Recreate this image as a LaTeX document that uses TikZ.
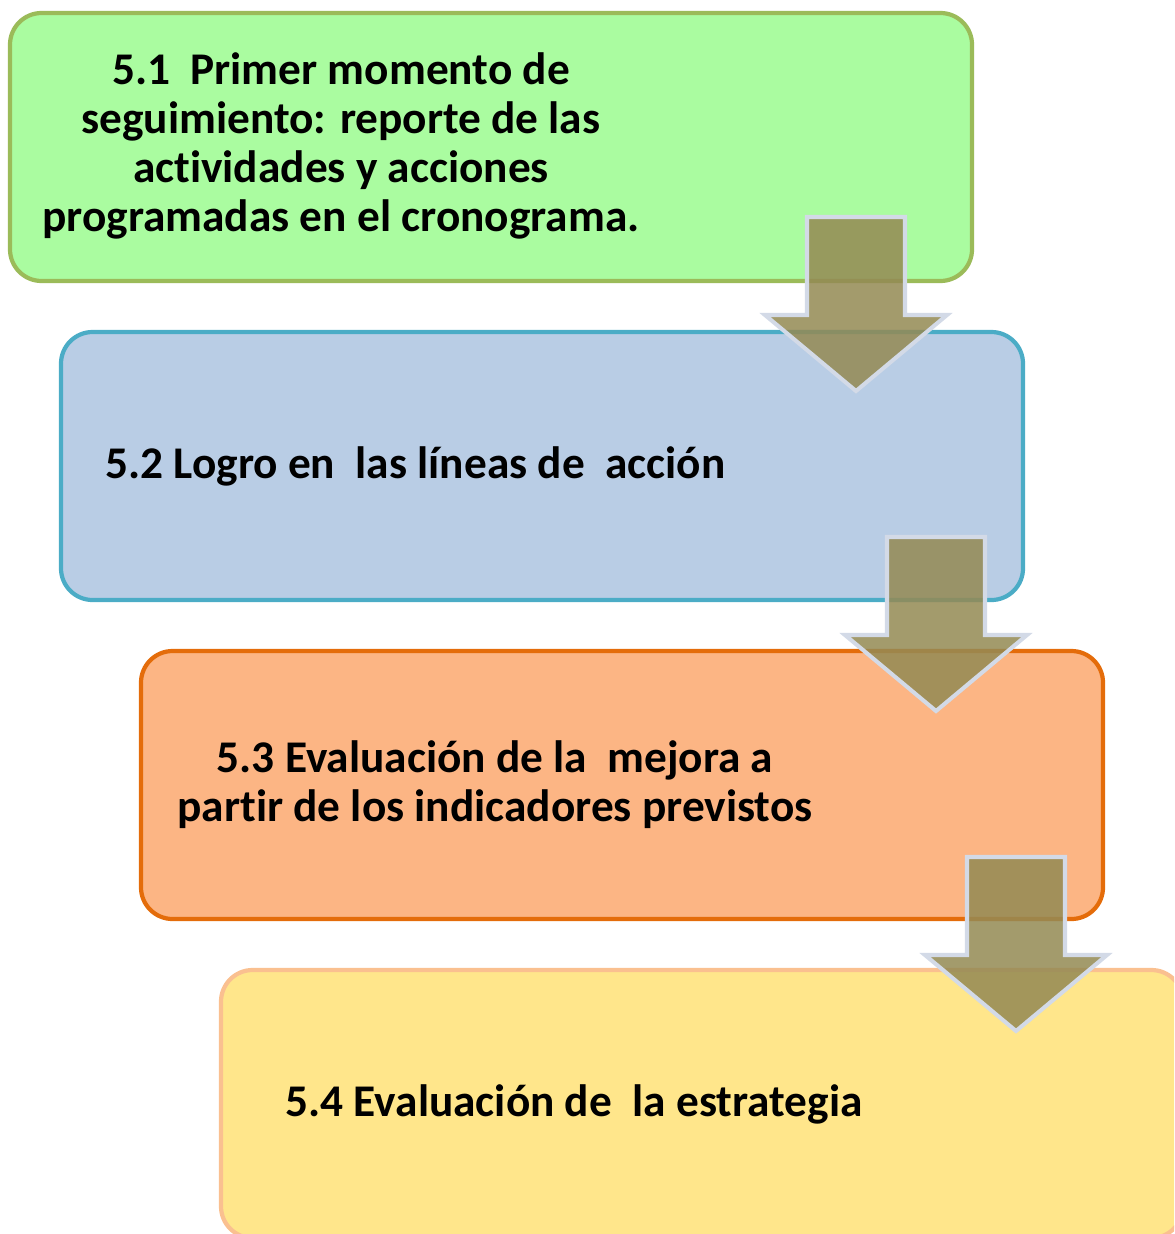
\documentclass[tikz,border=0pt]{standalone}
\usepackage{fontspec}
\setmainfont[Ligatures=NoCommon]{Carlito}
\usepackage{tikz}
\usetikzlibrary{calc}

\definecolor{greenfill}{HTML}{AAFCA0}
\definecolor{greenline}{HTML}{9BBB59}
\definecolor{bluefill}{HTML}{B9CDE5}
\definecolor{blueline}{HTML}{4BACC6}
\definecolor{orangefill}{HTML}{FCB584}
\definecolor{orangeline}{HTML}{E46C0A}
\definecolor{yellowfill}{HTML}{FFE68B}
\definecolor{yellowline}{HTML}{FAC090}
\definecolor{olivefill}{HTML}{948A54}
\definecolor{arrowline}{HTML}{D3DAE7}

\tikzset{
  stage/.style={draw, line width=2.4pt, rounded corners=18pt,
    minimum width=962*0.02cm, minimum height=268*0.02cm, inner sep=0pt},
  stagetext/.style={font=\bfseries\fontsize{25.8}{27.9}\selectfont, align=center, inner sep=0pt},
  blockarrow/.style={fill=olivefill, fill opacity=0.86, draw=arrowline, line width=2.3pt, line join=miter}
}

\begin{document}
\begin{tikzpicture}[x=0.02cm,y=-0.02cm]
      \useasboundingbox (0,0) rectangle (1174,1234);
      \clip (0,0) rectangle (1174,1234);
      \def\hw{49}\def\hh{91}
      \def\stages{
        \node [stage, fill=greenfill, draw=greenline] (s1) at (491,147) {};
        \node [stage, fill=bluefill, draw=blueline] (s2) at (542,466) {};
        \node [stage, fill=orangefill, draw=orangeline] (s3) at (622,785) {};
        \node [stage, fill=yellowfill, draw=yellowline] (s4) at (702,1104) {};
      }
      \def\texts{
        \node [stagetext] (t1) at (341,146) {5.1\ \ Primer momento de\\ seguimiento: reporte de las\\ actividades y acciones\\ programadas en el cronograma.};
        \node [stagetext, anchor=west] (t2) at (105,466) {5.2 Logro en\ \ las líneas de\ \ acción};
        \node [stagetext] (t3) at (495,785) {5.3 Evaluación de la\ \ mejora a\\ partir de los indicadores previstos};
        \node [stagetext] (t4) at (574,1104) {5.4 Evaluación de\ \ la estrategia};
      }
      \def\tips{
        \coordinate (a1) at (856,391);
        \coordinate (a2) at (936,711);
        \coordinate (a3) at (1016,1031);
      }
      \def\showArrows{
        % block arrows over the boxes
        \foreach \i in {1,2,3} {
          \draw [blockarrow] ([shift={(-\hw,-174)}]a\i) -- ([shift={(\hw,-174)}]a\i)
            -- ([shift={(\hw,-76)}]a\i) -- ([shift={(\hh,-76)}]a\i) -- (a\i)
            -- ([shift={(-\hh,-76)}]a\i) -- ([shift={(-\hw,-76)}]a\i) -- cycle;
        }
      }
      \stages
      \texts
      \tips
      \showArrows
\end{tikzpicture}
\end{document}
